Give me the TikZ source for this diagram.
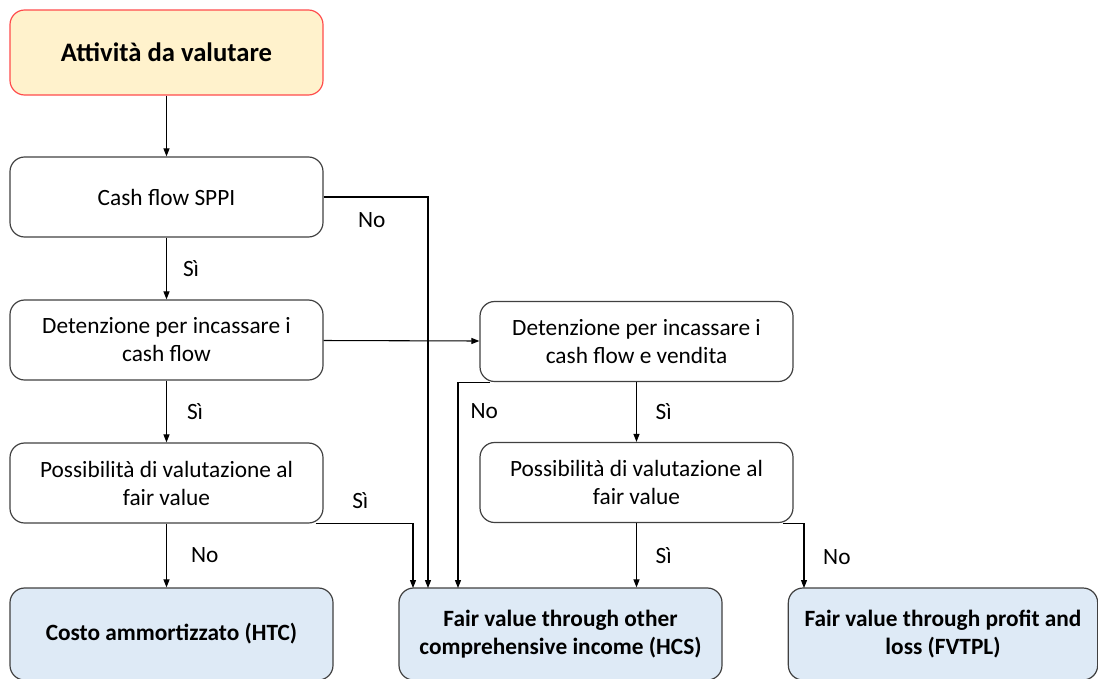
\documentclass[tikz,border=0pt]{standalone}
\usepackage{fontspec}
\setmainfont{Carlito}
\usepackage{tikz}
\usetikzlibrary{arrows.meta}
\usetikzlibrary{positioning}

\definecolor{startfill}{HTML}{FFF2CC}
\definecolor{startline}{HTML}{FF4B4B}
\definecolor{endfill}{HTML}{DEEAF6}
\definecolor{boxline}{HTML}{404040}

\begin{document}
\begin{tikzpicture}
    [
    x=0.75pt, y=-0.75pt,
    font=\fontsize{17.5}{21}\selectfont,
    step box/.style={rectangle,rounded corners=11pt,draw=boxline,line width=0.9pt,align=center,
        minimum width=234.75pt,minimum height=60pt,inner sep=2pt},
    start box/.style={step box,draw=startline,fill=startfill,minimum height=63.75pt,font=\fontsize{20}{24}\selectfont\bfseries},
    end box/.style={step box,fill=endfill,minimum width=242.25pt,minimum height=69pt,font=\fontsize{17.5}{21}\selectfont\bfseries},
    arr/.style={-{Triangle[length=6pt,width=4.5pt]},line width=0.8pt,black},
    lbl/.style={inner sep=0pt}
    ]
    \clip (0,0) rectangle (1098,678);
    % decisions
    \node[start box] (start) at (166.5,52.5) {Attività da valutare};
    \node[step box] (sppi) at (166.5,197) {Cash flow SPPI};
    \node[step box] (hold) at (166.5,340) {Detenzione per incassare i\\cash flow};
    \node[step box] (fvopt) at (166.5,483) {Possibilità di valutazione al\\fair value};
    \node[step box] (holdsell) at (636.5,341.5) {Detenzione per incassare i\\cash flow e vendita};
    \node[step box] (fvoptb) at (636.5,482.5) {Possibilità di valutazione al\\fair value};
    % outcomes
    \node[end box] (htc) at (171.5,634) {Costo ammortizzato (HTC)};
    \node[end box] (hcs) at (560.5,634) {Fair value through other\\comprehensive income (HCS)};
    \node[end box,minimum width=232pt] (fvtpl) at (943,634) {Fair value through profit and\\loss (FVTPL)};
    % drop points on the outcome boxes
    \coordinate (d1) at (413,588);
    \coordinate (d2) at (428,588);
    \coordinate (d3) at (458,588);
    \coordinate (d4) at (804,588);

    \draw[arr] (start) -- (sppi);
    \draw[arr] (sppi) -- node[lbl,right=12pt] {Sì} (hold);
    \draw[arr] (sppi.east) -| node[lbl,pos=.25,below=11pt,xshift=-3pt] {No} (d2);
    \draw[arr] (hold) -- (holdsell);
    \draw[arr] (hold) -- node[lbl,right=15pt] {Sì} (fvopt);
    \draw[arr] (fvopt.south) -- node[lbl,right=18pt] {No} (fvopt.south |- htc.north);
    \draw[arr] ([xshift=-6pt]fvopt.south east) -| node[lbl,pos=.25,above=11pt,xshift=-3pt] {Sì} (d1);
    \draw[arr] ([xshift=8pt]holdsell.south west) -| node[lbl,pos=.57,right=9pt] {No} (d3);
    \draw[arr] (holdsell) -- node[lbl,right=14pt] {Sì} (fvoptb);
    \draw[arr] (fvoptb.south) -- node[lbl,right=14pt] {Sì} (fvoptb.south |- hcs.north);
    \draw[arr] ([xshift=-8pt]fvoptb.south east) -| node[lbl,pos=.76,right=14pt] {No} (d4);
\end{tikzpicture}
\end{document}
